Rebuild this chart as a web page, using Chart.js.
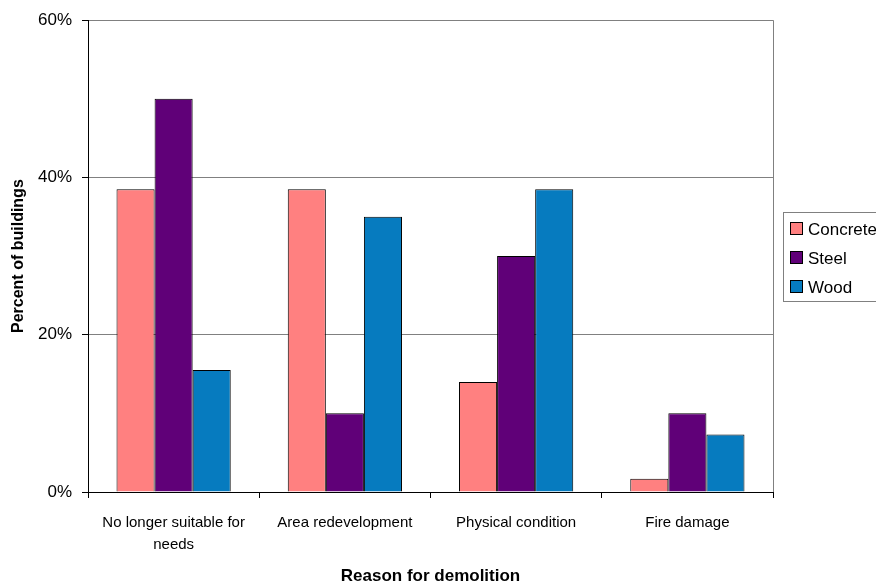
<!DOCTYPE html>
<html>
<head>
<meta charset="utf-8">
<script src="https://cdn.jsdelivr.net/npm/chart.js@4/dist/chart.umd.min.js"></script>
<style>
  html, body { margin: 0; padding: 0; background: #fff; }
  #wrap { width: 876px; height: 583px; position: relative; }
</style>
</head>
<body>
<div id="wrap"><canvas id="c" width="876" height="583"></canvas></div>
<script>
// Reasons for demolition, by main structural material (percent of buildings)
const categories = [['No longer suitable for', 'needs'], 'Area redevelopment', 'Physical condition', 'Fire damage'];
const seriesNames = ['Concrete', 'Steel', 'Wood'];
const concrete = [38.5, 38.5, 14.0, 1.7];
const steel = [50.0, 10.0, 30.0, 10.0];
const wood = [15.5, 35.0, 38.5, 7.3];
const yTicks = [0, 20, 40, 60];

const colors = ['#ff8080', '#600078', '#067bbf'];

Chart.defaults.font.family = "'Liberation Sans', Arial, sans-serif";
Chart.defaults.color = '#000';

// Category labels use a narrow face when one is available
function hasFont(name) {
  const c = document.createElement('canvas').getContext('2d');
  const probe = 'Physical condition';
  c.font = '18px serif';
  const a = c.measureText(probe).width;
  c.font = "18px '" + name + "', serif";
  const b = c.measureText(probe).width;
  return Math.abs(a - b) > 0.5;
}
const narrow = hasFont('Liberation Sans Narrow');
const catFont = narrow
  ? { family: "'Liberation Sans Narrow', 'Liberation Sans', Arial, sans-serif", size: 18, lineHeight: 1.22 }
  : { family: "'Liberation Sans', Arial, sans-serif", size: 15, lineHeight: 1.47 };
const catPad = narrow ? 11 : 14;

// Gray right-hand frame line of the plot area
const frame = {
  id: 'frame',
  beforeDatasetsDraw(chart) {
    const { ctx, chartArea: a } = chart;
    ctx.save();
    ctx.strokeStyle = '#808080';
    ctx.lineWidth = 1;
    ctx.beginPath();
    ctx.moveTo(Math.round(a.right) + 0.5, a.top);
    ctx.lineTo(Math.round(a.right) + 0.5, a.bottom);
    ctx.stroke();
    ctx.restore();
  }
};

// Boxed legend at the right edge
const boxLegend = {
  id: 'boxLegend',
  afterDraw(chart) {
    const { ctx } = chart;
    const x0 = 783.5, y0 = 212.5, w = 100, h = 89;
    ctx.save();
    ctx.strokeStyle = '#808080';
    ctx.lineWidth = 1;
    ctx.strokeRect(x0, y0, w, h);
    ctx.font = "17px 'Liberation Sans', Arial, sans-serif";
    ctx.textBaseline = 'middle';
    chart.data.datasets.forEach((ds, i) => {
      const cy = 229 + i * 29;
      ctx.fillStyle = ds.backgroundColor;
      ctx.fillRect(790.5, cy - 6.5, 12, 12);
      ctx.strokeStyle = '#000';
      ctx.strokeRect(790.5, cy - 6.5, 12, 12);
      ctx.fillStyle = '#000';
      ctx.fillText(ds.label, 808, cy + 1);
    });
    ctx.restore();
  }
};

new Chart(document.getElementById('c'), {
  type: 'bar',
  data: {
    labels: categories,
    datasets: [
      { label: seriesNames[0], data: concrete, backgroundColor: colors[0] },
      { label: seriesNames[1], data: steel, backgroundColor: colors[1] },
      { label: seriesNames[2], data: wood, backgroundColor: colors[2] }
    ].map(d => Object.assign(d, { borderColor: '#000', borderWidth: 1, categoryPercentage: 0.667, barPercentage: 1.0 }))
  },
  options: {
    responsive: false,
    animation: false,
    layout: { padding: { top: 20, right: 103, left: 0, bottom: 0 } },
    plugins: { legend: { display: false }, tooltip: { enabled: false } },
    scales: {
      x: {
        offset: true,
        grid: { offset: true, drawOnChartArea: false, drawTicks: true, tickLength: 6, tickColor: '#000' },
        border: { color: '#000', width: 1 },
        ticks: { font: catFont, padding: catPad, maxRotation: 0, autoSkip: false },
        title: { display: true, text: 'Reason for demolition', font: { size: 17, weight: 'bold', lineHeight: 1 }, padding: { top: 0, bottom: -1.5 } },
        afterFit(s) { s.height = 91; }
      },
      y: {
        min: 0, max: 60,
        afterBuildTicks(s) { s.ticks = yTicks.map(v => ({ value: v })); },
        grid: { color: '#808080', tickColor: '#000', tickLength: 6 },
        border: { color: '#000', width: 1 },
        ticks: { font: { size: 17 }, padding: 10, callback: v => v + '%' },
        title: { display: true, text: 'Percent of buildings', font: { size: 16, weight: 'bold' }, padding: { top: 9, bottom: 0 } },
        afterFit(s) { s.width = 88; }
      }
    }
  },
  plugins: [frame, boxLegend]
});
</script>
</body>
</html>
